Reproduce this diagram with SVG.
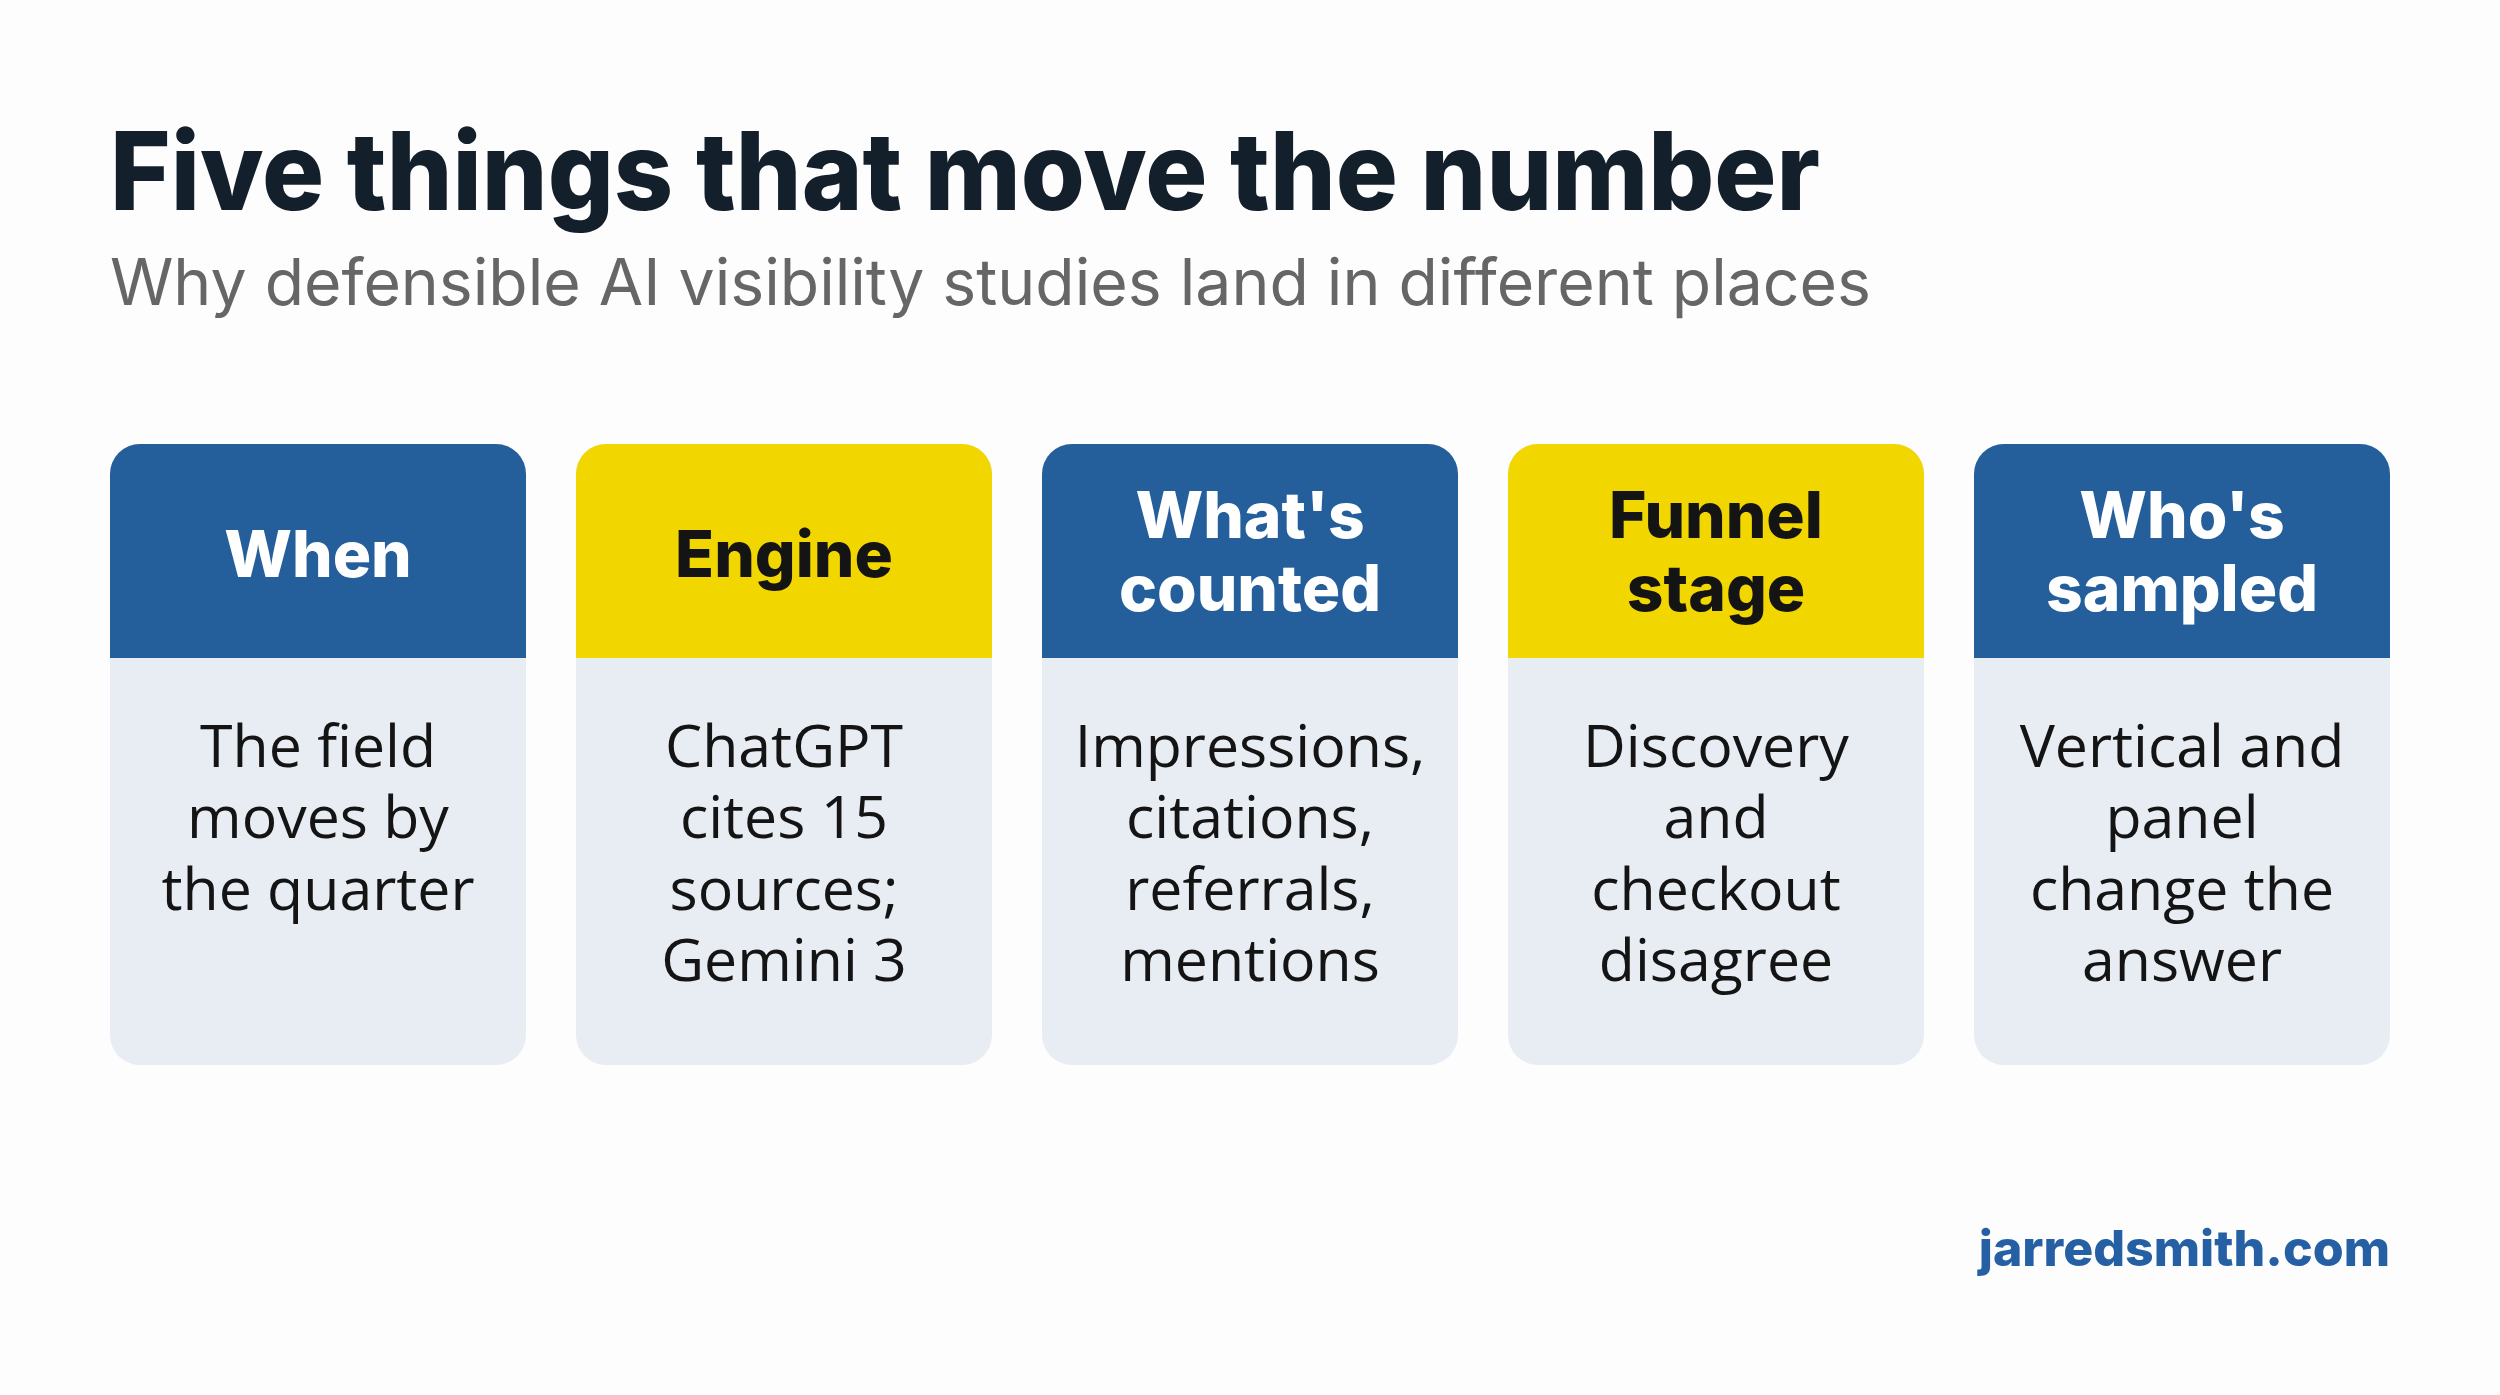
<svg xmlns="http://www.w3.org/2000/svg" width="2500" height="1395" viewBox="0 0 2500 1395">
<style>
.title{font-family:Inter,"Liberation Sans",sans-serif;font-weight:800;font-size:108px;fill:#131f2a}
.sub{font-family:Inter,"Liberation Sans",sans-serif;font-size:64px;fill:#666}
.hd{font-family:Inter,"Liberation Sans",sans-serif;font-weight:800;font-size:64px;text-anchor:middle}
.w{fill:#fff}.k{fill:#141414}
.bd{font-family:"Open Sans","Liberation Sans",sans-serif;font-size:59px;fill:#141414;text-anchor:middle}
.body{fill:#e8edf4}.blue{fill:#245f9c}.yel{fill:#f2d600}
.url{font-family:Inter,"Liberation Sans",sans-serif;font-weight:800;font-size:50px;fill:#2660a4;text-anchor:end}
</style>
<defs>
<path id="hdr" d="M0,658 V474 a30,30 0 0 1 30,-30 H386 a30,30 0 0 1 30,30 V658 Z"/>
</defs>
<rect width="2500" height="1395" fill="#fdfdfd"/>
<text class="title" x="110" y="210" textLength="1710" lengthAdjust="spacingAndGlyphs">Five things that move the number</text>
<text class="sub" x="110" y="305" textLength="1761" lengthAdjust="spacingAndGlyphs">Why defensible AI visibility studies land in different places</text>
<g id="card1" transform="translate(110,0)">
<rect class="body" x="0" y="444" width="416" height="621" rx="30"/><use href="#hdr" class="blue"/>
<text class="hd w" x="208" y="577">When</text>
<text class="bd" x="208"><tspan x="208" y="767">The field</tspan><tspan x="208" y="838">moves by</tspan><tspan x="208" y="910">the quarter</tspan></text>
</g>
<g id="card2" transform="translate(576,0)">
<rect class="body" x="0" y="444" width="416" height="621" rx="30"/><use href="#hdr" class="yel"/>
<text class="hd k" x="208" y="577">Engine</text>
<text class="bd"><tspan x="208" y="767">ChatGPT</tspan><tspan x="208" y="838">cites 15</tspan><tspan x="208" y="910">sources;</tspan><tspan x="208" y="981">Gemini 3</tspan></text>
</g>
<g id="card3" transform="translate(1042,0)">
<rect class="body" x="0" y="444" width="416" height="621" rx="30"/><use href="#hdr" class="blue"/>
<text class="hd w"><tspan x="208" y="538">What's</tspan><tspan x="208" y="611">counted</tspan></text>
<text class="bd"><tspan x="208" y="767">Impressions,</tspan><tspan x="208" y="838">citations,</tspan><tspan x="208" y="910">referrals,</tspan><tspan x="208" y="981">mentions</tspan></text>
</g>
<g id="card4" transform="translate(1508,0)">
<rect class="body" x="0" y="444" width="416" height="621" rx="30"/><use href="#hdr" class="yel"/>
<text class="hd k"><tspan x="208" y="538">Funnel</tspan><tspan x="208" y="611">stage</tspan></text>
<text class="bd"><tspan x="208" y="767">Discovery</tspan><tspan x="208" y="838">and</tspan><tspan x="208" y="910">checkout</tspan><tspan x="208" y="981">disagree</tspan></text>
</g>
<g id="card5" transform="translate(1974,0)">
<rect class="body" x="0" y="444" width="416" height="621" rx="30"/><use href="#hdr" class="blue"/>
<text class="hd w"><tspan x="208" y="538">Who's</tspan><tspan x="208" y="611">sampled</tspan></text>
<text class="bd"><tspan x="208" y="767">Vertical and</tspan><tspan x="208" y="838">panel</tspan><tspan x="208" y="910">change the</tspan><tspan x="208" y="981">answer</tspan></text>
</g>
<g id="connectors"/>
<text class="url" x="2390" y="1266">jarredsmith.com</text>
</svg>
